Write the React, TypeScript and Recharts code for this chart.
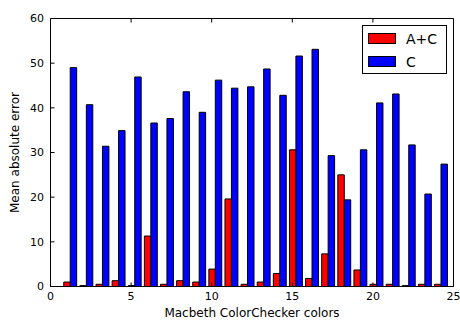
import {
  BarChart,
  Bar,
  XAxis,
  YAxis,
  Legend,
} from "recharts";

const patches = [1, 2, 3, 4, 5, 6, 7, 8, 9, 10, 11, 12, 13, 14, 15, 16, 17, 18, 19, 20, 21, 22, 23, 24];
const acErrors = [1.0, 0.2, 0.5, 1.3, 0.2, 11.3, 0.5, 1.3, 1.0, 3.9, 19.6, 0.5, 1.0, 2.9, 30.6, 1.8, 7.3, 25.0, 3.7, 0.5, 0.5, 0.2, 0.5, 0.5];
const cErrors = [49.0, 40.7, 31.4, 34.9, 46.9, 36.6, 37.6, 43.6, 39.0, 46.2, 44.4, 44.7, 48.7, 42.8, 51.6, 53.1, 29.3, 19.4, 30.6, 41.1, 43.1, 31.7, 20.7, 27.4];
const xTicks = [0, 5, 10, 15, 20, 25];
const yTicks = [0, 10, 20, 30, 40, 50, 60];

const data = patches.map((c, i) => ({ c, ac: acErrors[i], cOnly: cErrors[i] }));

const font = "'DejaVu Sans', sans-serif";
const black = { stroke: "#000", strokeWidth: 1 };

function renderLegend(props: any) {
  const items = props.payload || [];
  return (
    <div
      style={{
        position: "relative",
        width: 85,
        height: 49,
        boxSizing: "border-box",
        border: "1px solid #000",
        background: "#fff",
        fontFamily: font,
        fontSize: 14,
        color: "#000",
      }}
    >
      {items.map((entry: any, i: number) => (
        <div
          key={entry.value}
          style={{
            position: "absolute",
            left: 5,
            top: 7 + i * 23,
            height: 11,
            display: "flex",
            alignItems: "center",
            whiteSpace: "nowrap",
          }}
        >
          <span
            style={{
              display: "inline-block",
              width: 28,
              height: 11,
              boxSizing: "border-box",
              border: "1px solid #000",
              background: entry.color,
              marginRight: 10,
            }}
          />
          <span>{entry.value}</span>
        </div>
      ))}
    </div>
  );
}

export default function App() {
  return (
    <div style={{ position: "absolute", left: 0, top: 0, background: "#fff" }}>
      <BarChart
        width={460}
        height={323}
        data={data}
        margin={{ top: 17.5, right: 5.5, bottom: 0, left: 0.5 }}
        barGap={0}
        style={{ fontFamily: font }}
      >
        <XAxis xAxisId="cat" dataKey="c" hide height={0} padding={{ left: 11.28, right: 4.84 }} />
        <XAxis
          xAxisId="num"
          dataKey="c"
          type="number"
          domain={[0, 25]}
          allowDataOverflow
          ticks={xTicks}
          height={36.5}
          tickSize={-4}
          tickMargin={9.5}
          axisLine={black}
          tickLine={black}
          tick={{ fill: "#000", fontSize: 11 }}
          label={{
            value: "Macbeth ColorChecker colors",
            position: "insideBottom",
            offset: 6,
            fill: "#000",
            fontSize: 12,
          }}
        />
        <XAxis
          xAxisId="top"
          orientation="top"
          dataKey="c"
          type="number"
          domain={[0, 25]}
          allowDataOverflow
          ticks={xTicks}
          height={1}
          tickSize={-4}
          axisLine={black}
          tickLine={black}
          tickFormatter={() => ""}
        />
        <YAxis
          yAxisId="l"
          domain={[0, 60]}
          ticks={yTicks}
          width={50}
          tickSize={-4}
          tickMargin={10.5}
          axisLine={black}
          tickLine={black}
          tick={{ fill: "#000", fontSize: 11 }}
          label={{
            value: "Mean absolute error",
            angle: -90,
            position: "insideLeft",
            offset: 14.5,
            fill: "#000",
            fontSize: 12,
            style: { textAnchor: "middle" },
          }}
        />
        <YAxis
          yAxisId="r"
          orientation="right"
          domain={[0, 60]}
          ticks={yTicks}
          width={1}
          tickSize={-4}
          axisLine={black}
          tickLine={black}
          tickFormatter={() => ""}
        />
        <Legend
          content={renderLegend}
          layout="vertical"
          align="center"
          verticalAlign="middle"
          wrapperStyle={{ left: 362, top: 25, width: 85, height: 49 }}
        />
        <Bar
          xAxisId="cat"
          yAxisId="l"
          dataKey="ac"
          name="A+C"
          fill="#ff0000"
          stroke="#000"
          strokeWidth={1}
          barSize={6.45}
          isAnimationActive={false}
        />
        <Bar
          xAxisId="cat"
          yAxisId="l"
          dataKey="cOnly"
          name="C"
          fill="#0000ff"
          stroke="#000"
          strokeWidth={1}
          barSize={6.45}
          isAnimationActive={false}
        />
      </BarChart>
    </div>
  );
}
